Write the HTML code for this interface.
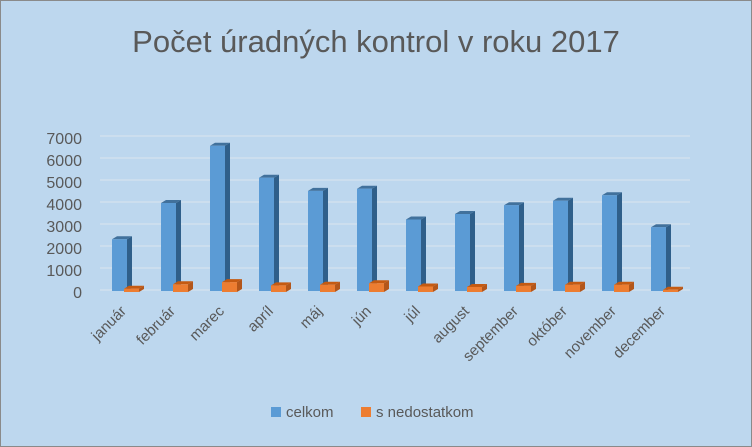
<!DOCTYPE html>
<html><head><meta charset="utf-8">
<style>
html,body{margin:0;padding:0;background:#fff}
svg{display:block;font-family:"Liberation Sans",sans-serif}
</style></head>
<body>
<svg id="c" width="752" height="447" viewBox="0 0 752 447">
<rect x="0.5" y="0.5" width="751" height="446" fill="#bdd7ee" stroke="#8a8a8a"/>
<text x="376" y="52" text-anchor="middle" font-size="31" fill="#595959">Počet úradných kontrol v roku 2017</text>
<g id="grid"></g>
<g id="yaxis"></g>
<g id="bars"></g>
<g id="xaxis"></g>
<g>
<rect x="271" y="407" width="10" height="10" fill="#5b9bd5"/>
<text x="286" y="417" font-size="15" fill="#595959">celkom</text>
<rect x="361" y="407" width="10" height="10" fill="#ed7d31"/>
<text x="376" y="417" font-size="15" fill="#595959">s nedostatkom</text>
</g>
</svg>
<script>
const categories = ["január","február","marec","apríl","máj","jún","júl","august","september","október","november","december"];
const celkom = [2350,4000,6600,5150,4550,4650,3250,3500,3900,4100,4350,2900];
const sNedostatkom = [150,350,450,300,330,400,250,230,280,330,330,100];
const yTicks = [0,1000,2000,3000,4000,5000,6000,7000];

const NS="http://www.w3.org/2000/svg";
const y0=291, pxPer=22/1000, x0=103, step=49;
const yS=v=>y0-v*pxPer;
const xC=i=>x0+step*i+24;
function mk(tag,attrs,parent){const e=document.createElementNS(NS,tag);for(const k in attrs)e.setAttribute(k,attrs[k]);parent.appendChild(e);return e;}
const grid=document.getElementById('grid'),ya=document.getElementById('yaxis'),bars=document.getElementById('bars'),xa=document.getElementById('xaxis');
yTicks.forEach(t=>{
  const l=mk('line',{x1:100,x2:690,y1:yS(t)-1,y2:yS(t)-1,stroke:'#d6e3ef','stroke-width':1.3},grid);
  
  
  const tx=mk('text',{x:82,y:yS(t)+7,'text-anchor':'end','font-size':16,fill:'#595959'},ya);
  tx.textContent=t;
  
  
});
function bar3d(x,w,v,front,side,top,yoff,name){
  const g=mk('g',{},bars);
  
  
  const yt=yS(v)+yoff, yb=y0+yoff, d=5, dy=3;
  mk('polygon',{points:`${x+w},${yt} ${x+w+d},${yt-dy} ${x+w+d},${yb-dy} ${x+w},${yb}`,fill:side},g);
  mk('polygon',{points:`${x},${yt} ${x+d},${yt-dy} ${x+w+d},${yt-dy} ${x+w},${yt}`,fill:top},g);
  mk('rect',{x:x,y:yt,width:w,height:Math.max(0,yb-yt),fill:front},g);
}
categories.forEach((c,i)=>{
  const cx=xC(i);
  bar3d(cx-15,15,celkom[i],'#5b9bd5','#2f5f8a','#41719c',0,'bar-celkom-'+c);
  bar3d(cx-3,15,sNedostatkom[i],'#ed7d31','#b3561a','#c55a11',1,'bar-s-nedostatkom-'+c);
  const t=mk('text',{x:cx,y:312,'text-anchor':'end','font-size':15,fill:'#595959',transform:`rotate(-45 ${cx} 312)`},xa);
  t.textContent=c;
  
  
});
</script>
</body></html>
